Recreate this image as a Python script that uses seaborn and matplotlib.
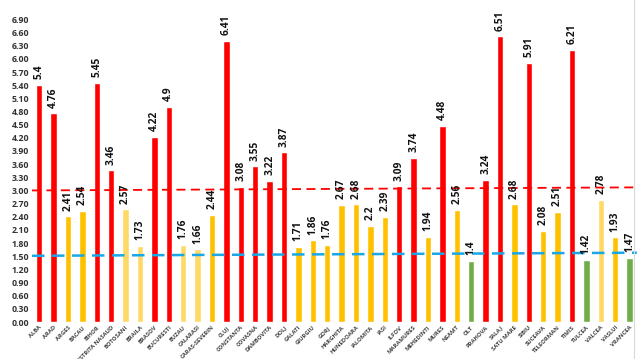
import matplotlib
matplotlib.use("Agg")
import matplotlib.pyplot as plt
import seaborn as sns
import pandas as pd

counties = ["ALBA", "ARAD", "ARGES", "BACAU", "BIHOR", "BISTRITA NASAUD", "BOTOSANI",
            "BRAILA", "BRASOV", "BUCURESTI", "BUZAU", "CALARASI", "CARAS-SEVERIN", "CLUJ",
            "CONSTANTA", "COVASNA", "DAMBOVITA", "DOLJ", "GALATI", "GIURGIU", "GORJ",
            "HARGHITA", "HUNEDOARA", "IALOMITA", "IASI", "ILFOV", "MARAMURES", "MEHEDINTI",
            "MURES", "NEAMT", "OLT", "PRAHOVA", "SALAJ", "SATU MARE", "SIBIU", "SUCEAVA",
            "TELEORMAN", "TIMIS", "TULCEA", "VALCEA", "VASLUI", "VRANCEA"]
rates = [5.4, 4.76, 2.41, 2.54, 5.45, 3.46, 2.57, 1.73, 4.22, 4.9, 1.76, 1.66, 2.44, 6.41,
         3.08, 3.55, 3.22, 3.87, 1.71, 1.86, 1.76, 2.67, 2.68, 2.2, 2.39, 3.09, 3.74, 1.94,
         4.48, 2.56, 1.4, 3.24, 6.51, 2.68, 5.91, 2.08, 2.51, 6.21, 1.42, 2.78, 1.93, 1.47]
# colour group of each bar as drawn in the original
groups = ["r", "r", "y", "y", "r", "r", "ly", "ly", "r", "r", "ly", "ly", "y", "r",
          "r", "r", "r", "r", "y", "y", "y", "y", "y", "y", "y", "r", "r", "y",
          "r", "y", "g", "r", "r", "y", "r", "y", "y", "r", "g", "ly", "y", "g"]
red_line = [3.0, 3.07]
blue_line = [1.51, 1.58]

palette = {"r": "#FF0000", "y": "#FFC000", "ly": "#FFD966", "g": "#70AD47"}

df = pd.DataFrame({"county": counties, "rate": rates, "grp": groups})

sns.set_style("white")
plt.rcParams["font.family"] = ["Open Sans", "DejaVu Sans"]

fig = plt.figure(figsize=(6.4, 3.59), dpi=100)
ax = fig.add_axes([0.05, 0.103, 0.945, 0.843])

sns.barplot(data=df, x="county", y="rate", hue="grp", palette=palette,
            dodge=False, width=0.45, saturation=1, legend=False, ax=ax)

n = len(counties)
ax.plot([-0.5, n - 0.5], red_line, color="#FF0000", ls=(0, (5, 3)), lw=1.3)
ax.plot([-0.5, n - 0.5], blue_line, color="#1AA7E8", ls=(0, (5, 3)), lw=1.8)

for i, v in enumerate(rates):
    ax.text(i, v + 0.13, str(v), rotation=90, ha="center", va="bottom",
            fontsize=7.3, fontweight="bold", color="#111111")

ax.set_xlim(-0.5, n - 0.5)
ax.set_ylim(0, 6.9)
ax.set_yticks([i * 0.3 for i in range(24)])
ax.set_yticklabels([f"{i * 0.3:.2f}" for i in range(24)], fontsize=6.3,
                   fontweight="bold", color="#333333")
ax.set_xticks(range(n))
ax.set_xticklabels(counties, rotation=45, ha="right", rotation_mode="anchor",
                   fontsize=4.2, fontweight="bold", color="#444444")
ax.tick_params(axis="both", length=0, pad=2)
ax.set_xlabel("")
ax.set_ylabel("")
for s in ax.spines.values():
    s.set_visible(False)

# thin frame edge on the right as in the original slide
fig.add_artist(plt.Line2D([0.991, 0.991], [0, 1], color="#D9D9D9", lw=0.8))

fig.savefig("out.png", dpi=100)
